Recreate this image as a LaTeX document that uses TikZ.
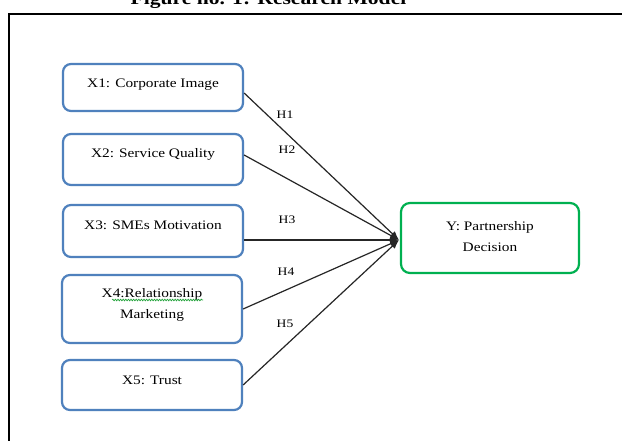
\documentclass[tikz,border=0pt]{standalone}
\usepackage{fontspec}
\setmainfont[FakeStretch=1.18]{Liberation Serif}
\usetikzlibrary{arrows.meta,decorations.pathmorphing}
\definecolor{boxblue}{HTML}{4F81BD}
\definecolor{boxgreen}{HTML}{00B050}
\definecolor{spellgreen}{HTML}{22A33A}
\begin{document}
\begin{tikzpicture}[x=1pt,y=-1pt,
  txt/.style={font=\fontsize{13}{21}\selectfont, align=center, inner sep=0pt},
  hlbl/.style={font=\fontsize{11.5}{14}\selectfont, inner sep=0pt},
  bluebox/.style={draw=boxblue, line width=2.2pt, rounded corners=8pt, minimum width=180pt, inner sep=0pt},
  greenbox/.style={draw=boxgreen, line width=2.2pt, rounded corners=9pt, minimum width=178pt, minimum height=70pt, inner sep=0pt},
  conn/.style={line width=1.2pt, draw=black!85, -{Latex[length=9pt,width=7pt]}}]
\useasboundingbox (0,0) rectangle (622,441);
\clip (0,0) rectangle (622,441);
\fill[white] (0,0) rectangle (622,441);
% title (cut at top)
\node[anchor=base, font=\bfseries\fontsize{18.3}{20}\selectfont, inner sep=0pt] (title) at (268.5,5) {Figure no. 1: Research Model};
% frame
\draw[line width=2pt] (9,14) rectangle (680,480);
% boxes
\node[bluebox, minimum height=47pt, label={[txt,yshift=2.5pt]center:X1: Corporate Image}] (x1) at (153,87.5) {};
\node[bluebox, minimum height=51pt, label={[txt,yshift=5.5pt]center:X2: Service Quality}] (x2) at (153,159.5) {};
\node[bluebox, minimum height=52pt, label={[txt,yshift=6pt]center:X3: SMEs Motivation}] (x3) at (153,231) {};
\node[bluebox, minimum height=68pt, label={[txt,yshift=4pt]center:X4:Relationship\\Marketing}] (x4) at (152,309) {};
\node[bluebox, minimum height=50pt, label={[txt,yshift=5pt]center:X5: Trust}] (x5) at (152,385) {};
\node[greenbox, label={[txt,yshift=1.5pt]center:Y: Partnership\\Decision}] (y) at (490,238) {};
% spell-check squiggle
\draw[spellgreen, line width=0.7pt, decorate, decoration={snake, amplitude=0.8pt, segment length=2.6pt}] (112,300) -- (203,300);
% connectors
\coordinate (tip) at (399,240);
\draw[conn] ([yshift=-5.5pt]x1.east) -- (tip);
\draw[conn] ([yshift=4.5pt]x2.east) -- (tip);
\draw[conn] ([yshift=-9pt]x3.east) -- (tip);
\draw[conn] (x4.east) -- (tip);
\draw[conn] (x5.east) -- (tip);
% hypothesis labels
\node[hlbl] (h1) at (285,115) {H1};
\node[hlbl] (h2) at (287,150) {H2};
\node[hlbl] (h3) at (287,220) {H3};
\node[hlbl] (h4) at (286,272) {H4};
\node[hlbl] (h5) at (285,324) {H5};
\end{tikzpicture}
\end{document}
